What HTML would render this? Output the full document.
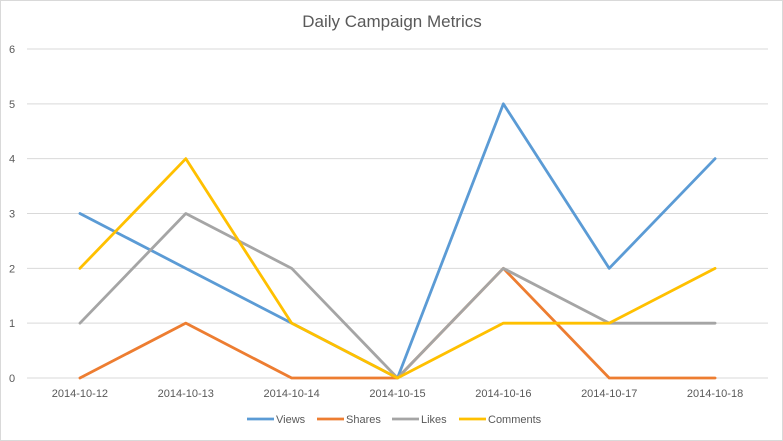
<!DOCTYPE html>
<html><head><meta charset="utf-8"><style>
html,body{margin:0;padding:0;background:#fff}
svg{display:block;font-family:"Liberation Sans",sans-serif}
</style></head><body>
<svg id="chart" width="783" height="441" viewBox="0 0 783 441">
<rect x="0.5" y="0.5" width="782" height="440" fill="#fff" stroke="#d9d9d9"/>
<text x="392" y="27" text-anchor="middle" font-size="17" fill="#595959">Daily Campaign Metrics</text>
<g id="grid"></g><g id="series"></g><g id="xlabels"></g><g id="legend"></g>
</svg>
<script>
const categories = ["2014-10-12","2014-10-13","2014-10-14","2014-10-15","2014-10-16","2014-10-17","2014-10-18"];
const views = [3,2,1,0,5,2,4];
const shares = [0,1,0,0,2,0,0];
const likes = [1,3,2,0,2,1,1];
const comments = [2,4,1,0,1,1,2];
const yTicks = [0,1,2,3,4,5,6];
const seriesNames = ["Views","Shares","Likes","Comments"];
const colors = ["#5B9BD5","#ED7D31","#A5A5A5","#FFC000"];
const NS="http://www.w3.org/2000/svg";
const left=27,right=768,top0=49,bottom=378,yMax=6;
const step=(right-left)/categories.length;
const xPos=i=>left+step*(i+0.5);
const yPos=v=>bottom-(v/yMax)*(bottom-top0);
function mk(tag,attrs,parent){const e=document.createElementNS(NS,tag);for(const k in attrs)e.setAttribute(k,attrs[k]);parent.appendChild(e);return e;}
const grid=document.getElementById('grid');
yTicks.forEach(t=>{
  const l=mk('line',{x1:left,x2:right,y1:yPos(t),y2:yPos(t),stroke:'#d9d9d9','stroke-width':1},grid);
  
  
  const tx=mk('text',{x:12,y:yPos(t)+4,'text-anchor':'middle','font-size':11,fill:'#595959'},grid);
  tx.textContent=t;
  
  
});
const xl=document.getElementById('xlabels');
categories.forEach((c,i)=>{
  const tx=mk('text',{x:xPos(i),y:397,'text-anchor':'middle','font-size':11,fill:'#595959'},xl);
  tx.textContent=c;
  
  
});
const data=[views,shares,likes,comments];
const sg=document.getElementById('series');
data.forEach((d,s)=>{
  const pts=d.map((v,i)=>xPos(i)+','+yPos(v)).join(' ');
  const p=mk('polyline',{points:pts,fill:'none',stroke:colors[s],'stroke-width':2.8,'stroke-linejoin':'round','stroke-linecap':'round'},sg);
  
  
});
const lg=document.getElementById('legend');
const lx=[247,317,392,459];
seriesNames.forEach((n,s)=>{
  const g=mk('g',{},lg);
  
  
  mk('line',{x1:lx[s],x2:lx[s]+27,y1:419,y2:419,stroke:colors[s],'stroke-width':2.8},g);
  const t=mk('text',{x:lx[s]+29,y:423,'font-size':11,fill:'#595959'},g);
  t.textContent=n;
});
</script>
</body></html>
